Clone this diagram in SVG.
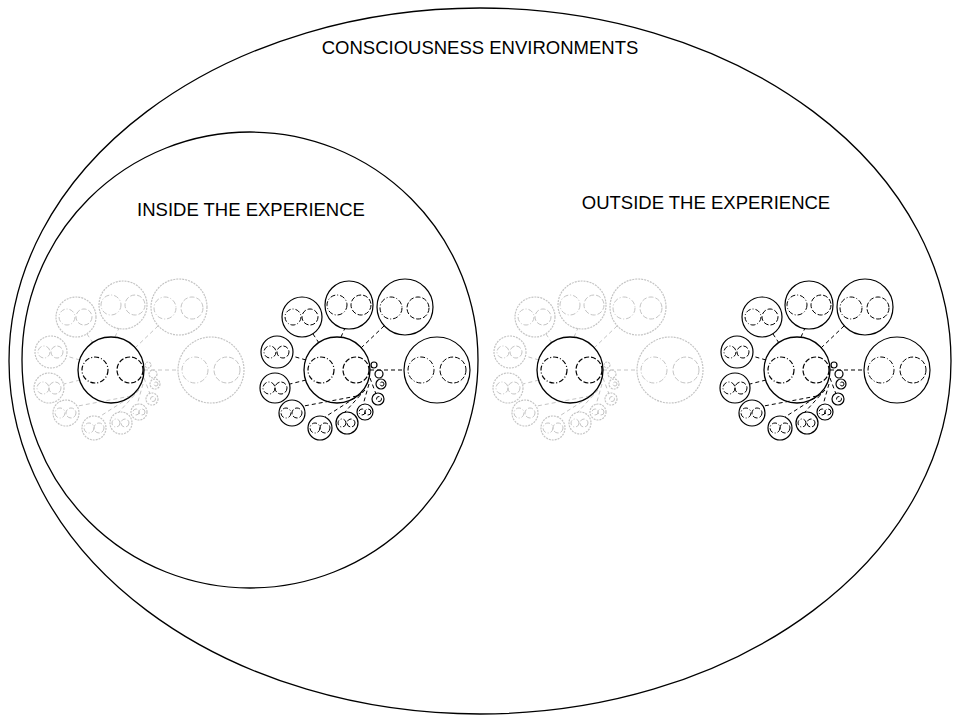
<svg xmlns="http://www.w3.org/2000/svg" xmlns:xlink="http://www.w3.org/1999/xlink" width="960" height="720" viewBox="0 0 960 720">
<style>
text{font-family:"Liberation Sans",Arial,sans-serif;font-size:18.5px;fill:#000;text-anchor:middle}
.env{fill:none;stroke:#000;stroke-width:1.3}
.cen{fill:none;stroke:#000;stroke-width:1.3;stroke-dasharray:none}
.sat{fill:none;stroke:currentColor;stroke-width:1.2}
.dd{fill:none;stroke:currentColor;stroke-width:1;stroke-dasharray:5 2 1 2}
.da{fill:none;stroke:currentColor;stroke-width:1;stroke-dasharray:5 2}
.cdd{fill:none;stroke:#000;stroke-width:1.2;stroke-dasharray:5 2 1 2}
.cda{fill:none;stroke:#000;stroke-width:1.2;stroke-dasharray:5 2}
.ln{stroke:currentColor;stroke-width:1;stroke-dasharray:4 3}
</style>
<defs>
<g id="cluster">
<g id="links">
<line class="ln" x1="33" y1="0" x2="67" y2="0"/>
<line class="ln" x1="24" y1="-22" x2="47" y2="-44"/>
<line class="ln" x1="4" y1="-33" x2="8" y2="-42"/>
<line class="ln" x1="-18" y1="-27" x2="-24" y2="-36"/>
<line class="ln" x1="-31" y1="-10" x2="-45" y2="-14"/>
<line class="ln" x1="-31" y1="10" x2="-47" y2="14"/>
<line class="ln" x1="20" y1="26" x2="-33" y2="36"/>
<line class="ln" x1="24" y1="24" x2="-12" y2="47"/>
<line class="ln" x1="28" y1="20" x2="8" y2="42"/>
<line class="ln" x1="32" y1="14" x2="26" y2="35"/>
<line class="ln" x1="33" y1="8" x2="39" y2="24"/>
</g>
<circle class="cen" r="33"/><circle class="cdd" cx="-16" r="13"/><circle class="cda" cx="19" r="13"/>
<circle class="sat" cx="100" r="33"/><circle class="dd" cx="84" r="13"/><circle class="da" cx="116" r="13"/>
<circle class="sat" cx="68" cy="-63" r="28"/><circle class="dd" cx="54" cy="-62" r="11"/><circle class="da" cx="81" cy="-62" r="11"/>
<circle class="sat" cx="12" cy="-65" r="24"/><circle class="dd" cx="0" cy="-65" r="10"/><circle class="da" cx="24" cy="-65" r="10"/>
<circle class="sat" cx="-35" cy="-53" r="20"/><circle class="dd" cx="-44" cy="-53" r="8"/><circle class="da" cx="-27" cy="-53" r="8"/>
<circle class="sat" cx="-60" cy="-18" r="16"/><circle class="dd" cx="-67" cy="-18" r="6"/><circle class="da" cx="-54" cy="-18" r="6"/>
<circle class="sat" cx="-62" cy="18" r="15"/><circle class="dd" cx="-68" cy="18" r="6"/><circle class="da" cx="-56" cy="18" r="6"/>
<circle class="sat" cx="-45" cy="43" r="13"/><circle class="dd" cx="-51" cy="43" r="5"/><circle class="da" cx="-40" cy="43" r="5"/>
<circle class="sat" cx="-17" cy="58" r="12"/><circle class="dd" cx="-22" cy="58" r="5"/><circle class="da" cx="-12" cy="58" r="5"/>
<circle class="sat" cx="10" cy="53" r="11"/><circle class="dd" cx="5" cy="53" r="4"/><circle class="da" cx="14" cy="53" r="4"/>
<circle class="sat" cx="28" cy="42" r="8"/><circle class="dd" cx="25" cy="42" r="3"/><circle class="da" cx="31" cy="42" r="3"/>
<circle class="sat" cx="41" cy="29" r="6"/><circle class="da" cx="42" cy="29" r="2.5"/>
<circle class="sat" cx="44" cy="14" r="5"/><circle class="da" cx="45" cy="14" r="2"/>
<circle class="sat" cx="42" cy="4" r="4"/>
<circle class="sat" cx="37" cy="-5" r="3"/>
</g>
</defs>
<g id="environments">
<ellipse class="env" cx="480" cy="361" rx="471" ry="353"/>
<circle class="env" cx="250" cy="360" r="228"/>
</g>
<text x="480" y="54">CONSCIOUSNESS ENVIRONMENTS</text>
<text x="251" y="216">INSIDE THE EXPERIENCE</text>
<text x="706" y="209">OUTSIDE THE EXPERIENCE</text>
<g id="inside-dim" color="#c4c4c4" stroke-dasharray="2 1"><use xlink:href="#cluster" transform="translate(111,370)"/></g>
<g id="inside-active" color="#000"><use xlink:href="#cluster" transform="translate(337,370)"/></g>
<g id="outside-dim" color="#c4c4c4" stroke-dasharray="2 1"><use xlink:href="#cluster" transform="translate(570,370)"/></g>
<g id="outside-active" color="#000"><use xlink:href="#cluster" transform="translate(797,370)"/></g>
</svg>
